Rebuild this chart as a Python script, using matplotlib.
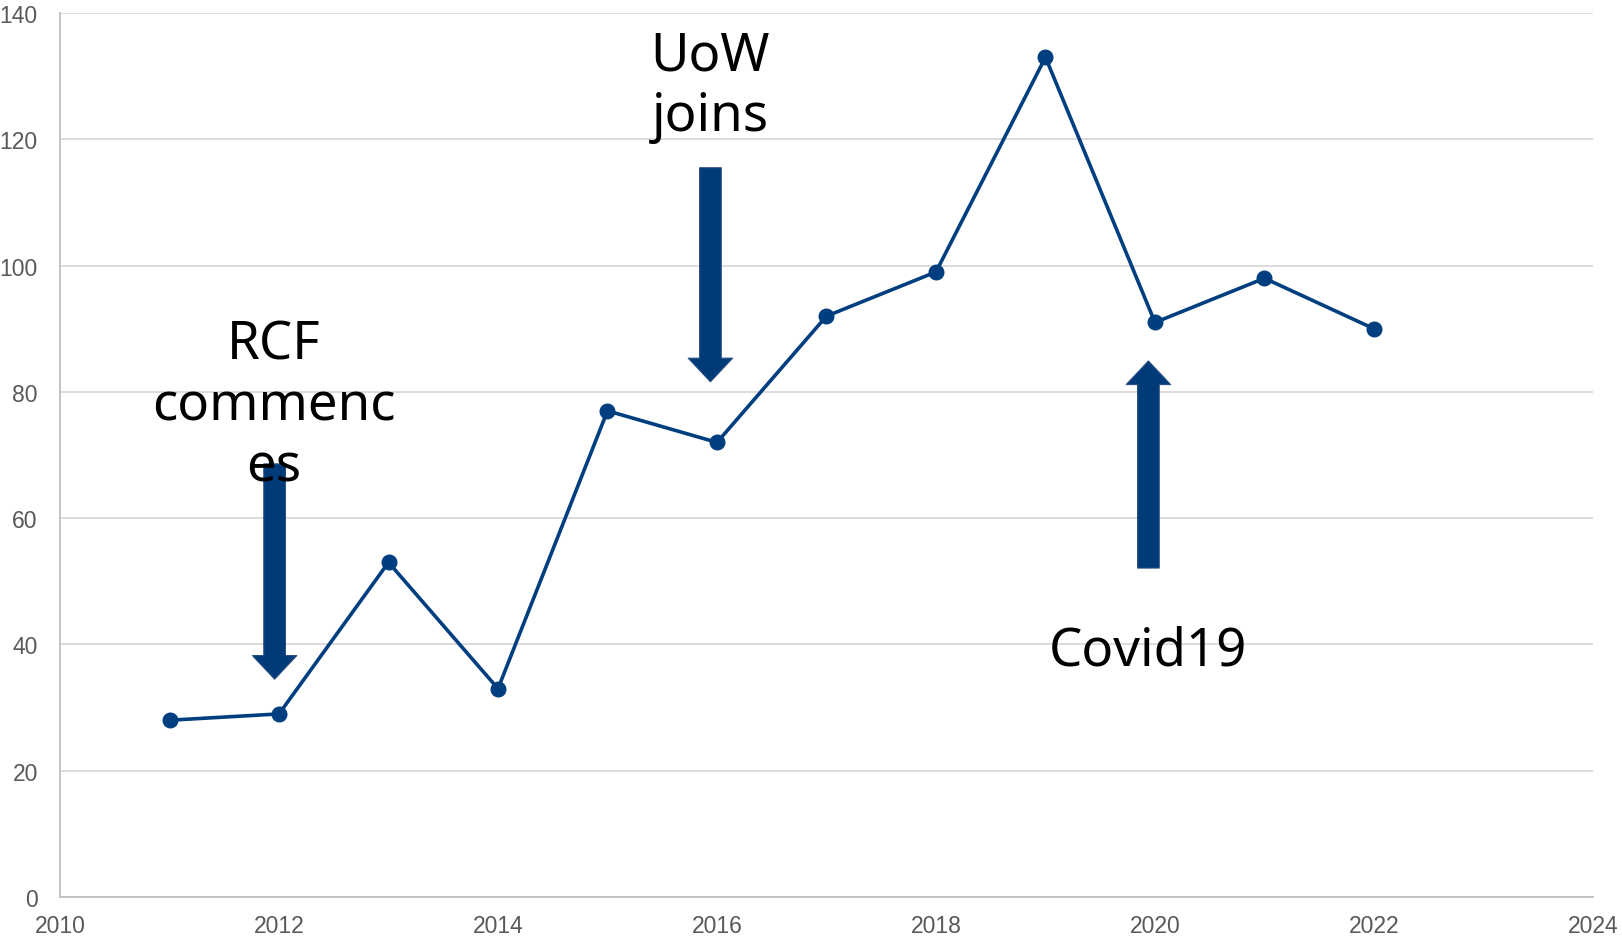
import matplotlib
matplotlib.use('Agg')
from matplotlib import pyplot as plt

# Dados do gráfico
years = [2011, 2012, 2013, 2014, 2015, 2016, 2017, 2018, 2019, 2020, 2021, 2022]
values = [28, 29, 53, 33, 77, 72, 92, 99, 133, 91, 98, 90]

x_ticks = [2010, 2012, 2014, 2016, 2018, 2020, 2022, 2024]
y_ticks = [0, 20, 40, 60, 80, 100, 120, 140]

# Anotações: texto, posição do texto, início e fim da seta
notes = ["RCF\ncommenc\nes", "UoW\njoins", "Covid19"]
note_pos = [(2011.95, 77.8), (2015.94, 128.4), (2019.94, 39.0)]
arrow_from = [(2011.96, 68.6), (2015.94, 115.5), (2019.94, 52.1)]
arrow_to = [(2011.96, 34.5), (2015.94, 81.6), (2019.94, 84.9)]

line_color = '#003f7f'
arrow_color = '#003b79'

fig = plt.figure(figsize=(16.22, 9.37), dpi=100)
ax = fig.add_axes([0.037, 0.0416, 0.9451, 0.9434])

ax.plot(years, values, color=line_color, linewidth=2.6,
        marker='o', markersize=10.5, zorder=3)

# Setas largas
for (x0, y0), (x1, y1) in zip(arrow_from, arrow_to):
    ax.annotate('', xy=(x1, y1), xytext=(x0, y0),
                arrowprops=dict(arrowstyle='simple,head_width=1.6,head_length=0.85,tail_width=0.78',
                                mutation_scale=20, shrinkA=0, shrinkB=0,
                                facecolor=arrow_color, edgecolor='#2a4f80',
                                linewidth=0.8),
                zorder=4)

for txt, (x, y) in zip(notes, note_pos):
    ax.text(x, y, txt, ha='center', va='center', fontsize=38,
            family='Noto Sans', color='black', linespacing=1.2, zorder=5)

# Formata o gráfico
ax.set_xlim(2010, 2024)
ax.set_ylim(0, 140)
ax.set_xticks(x_ticks)
ax.set_yticks(y_ticks)
ax.grid(axis='y', color='#d9d9d9', linewidth=1.3)
ax.set_axisbelow(True)
for side in ['top', 'right']:
    ax.spines[side].set_visible(False)
for side in ['left', 'bottom']:
    ax.spines[side].set_color('#bfbfbf')
    ax.spines[side].set_linewidth(1.3)
ax.tick_params(axis='both', length=0, labelsize=16.5, labelcolor='#595959')
ax.tick_params(axis='y', pad=16)
ax.tick_params(axis='x', pad=12)
for lab in ax.get_xticklabels() + ax.get_yticklabels():
    lab.set_family('Liberation Sans')

fig.savefig('out.png', dpi=100)
